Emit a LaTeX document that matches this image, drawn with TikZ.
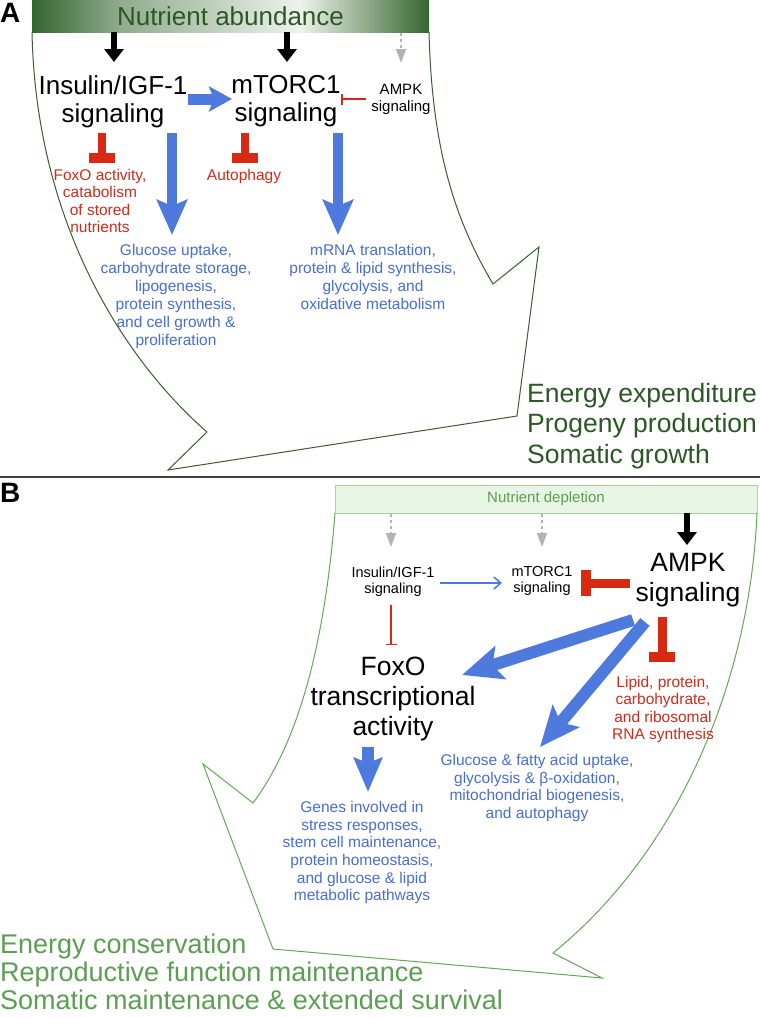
\documentclass[tikz,border=0pt]{standalone}
\usepackage{fontspec}
\setmainfont{Liberation Sans}
\usetikzlibrary{arrows.meta}
\definecolor{dkg}{RGB}{54,102,48}
\definecolor{dkgtext}{RGB}{44,88,38}
\definecolor{lgtext}{RGB}{92,158,82}
\definecolor{lgfill}{RGB}{232,244,228}
\definecolor{lgdraw}{RGB}{170,210,160}
\definecolor{outAc}{RGB}{60,92,52}
\definecolor{outBc}{RGB}{100,168,88}
\definecolor{barrow}{RGB}{77,122,220}
\definecolor{btext}{RGB}{72,110,208}
\definecolor{rarrow}{RGB}{216,42,18}
\definecolor{rtext}{RGB}{208,44,28}
\definecolor{garrow}{RGB}{180,180,180}
\definecolor{lightbar}{RGB}{238,243,236}
\colorlet{gB}{dkg!55!white}
\newcommand\fsz[2]{\fontsize{#1}{#2}\selectfont}
\tikzset{
  bigtxt/.style={font=\fsz{26}{28}, align=center, inner sep=0pt, anchor=north},
  midtxt/.style={font=\fsz{15.5}{17.5}, align=center, inner sep=0pt, anchor=north},
  smalltxt/.style={font=\fsz{15}{16.5}, align=center, inner sep=0pt, anchor=north},
  outtxt/.style={font=\fsz{26.5}{30.5}, align=left, inner sep=0pt, anchor=north west},
  panellabel/.style={font=\fsz{28}{30}\bfseries, inner sep=0pt, anchor=north west},
  blackarr/.style={draw=black, line width=6pt, -{Triangle[length=13pt,width=19pt]}},
  grayarr/.style={draw=garrow, line width=2pt, dash pattern=on 3pt off 3pt, -{Triangle[length=14pt,width=10pt]}},
  bluethick/.style={draw=barrow, line width=10pt, -{Stealth[length=35pt,width=30pt,inset=6pt]}},
  bluefat/.style={draw=barrow, line width=12pt, -{Stealth[length=40pt,width=34pt,inset=8pt]}},
  bluethin/.style={draw=barrow, line width=1.5pt, -{Straight Barb[length=7pt,width=12pt,line width=1.5pt]}},
  redT/.style={draw=rarrow, line width=8pt, -{Bar[width=26pt,line width=10pt]}},
  redthin/.style={draw=rarrow, line width=1.5pt, -{Bar[width=11pt,line width=1.5pt]}},
  outlineA/.style={draw=outAc, line width=1pt, line join=miter},
  outlineB/.style={draw=outBc, line width=1pt, line join=miter},
}
\begin{document}
\begin{tikzpicture}[x=1pt, y=-1pt]
\useasboundingbox (0,0) rectangle (760,1018);
\fill[white] (0,0) rectangle (760,1018);

% ---------------- Panel A ----------------
\node[panellabel] (labA) at (0,3) {A};
\shade[left color=dkg, right color=gB] (32,0) rectangle (120.5,32);
\shade[left color=gB, right color=lightbar] (120,0) rectangle (300.5,32);
\shade[left color=lightbar, right color=dkg] (300,0) rectangle (429,32);
\node[minimum width=397pt, minimum height=32pt, inner sep=0pt,
      text=dkgtext, font=\fsz{26}{28}] (abund) at (230.5,16) {Nutrient abundance};

\draw[outlineA] (32,32) .. controls (36,230) and (130,365) .. (207,432)
   -- (168,470) -- (517,416) -- (539,247) -- (493,284)
   .. controls (455,220) and (432,150) .. (429,32);

\node[bigtxt] (insA) at (113,75.5) {Insulin/IGF-1\\signaling};
\node[bigtxt] (mtorA) at (286,75.5) {mTORC1\\signaling};
\node[smalltxt] (ampkA) at (401,84) {AMPK\\signaling};
\node[midtxt, text=rtext] (foxA) at (100,169) {FoxO activity,\\catabolism\\of stored\\nutrients};
\node[midtxt, text=rtext] (autoA) at (244,169) {Autophagy};
\node[midtxt, text=btext, font=\fsz{15.5}{18}] (glucA) at (176,244) {Glucose uptake,\\carbohydrate storage,\\lipogenesis,\\protein synthesis,\\and cell growth \&\\proliferation};
\node[midtxt, text=btext, font=\fsz{15.5}{18}] (mrnaA) at (373,244) {mRNA translation,\\protein \& lipid synthesis,\\glycolysis, and\\oxidative metabolism};
\node[outtxt, text=dkgtext] (outA) at (527,383) {Energy expenditure\\Progeny production\\Somatic growth};

\coordinate (a1s) at (114,32);  \coordinate (a1e) at (114,62);
\coordinate (a2s) at (287,32);  \coordinate (a2e) at (287,62);
\coordinate (a3s) at (401,33);  \coordinate (a3e) at (401,63);
\draw[blackarr] (a1s) -- (a1e);
\draw[blackarr] (a2s) -- (a2e);
\draw[grayarr] (a3s) -- (a3e);

\coordinate (ih1) at (188,99); \coordinate (ih2) at (232,99);
\draw[bluethick, line width=11pt, -{Stealth[length=23pt,width=25pt,inset=5pt]}] (ih1) -- (ih2);
\coordinate (iv1) at (172,133); \coordinate (iv2) at (172,235);
\coordinate (mv1) at (338,133); \coordinate (mv2) at (338,235);
\draw[bluethick] (iv1) -- (iv2);
\draw[bluethick] (mv1) -- (mv2);

\coordinate (it1) at (102,133); \coordinate (it2) at (102,163);
\coordinate (mt1) at (245,133); \coordinate (mt2) at (245,163);
\draw[redT] (it1) -- (it2);
\draw[redT] (mt1) -- (mt2);
\coordinate (am1) at (366,99); \coordinate (am2) at (341,99);
\draw[redthin] (am1) -- (am2);

% divider
\draw[draw=black!75, line width=1.5pt] (0,477) -- (760,477);

% ---------------- Panel B ----------------
\node[panellabel] (labB) at (0,483) {B};
\node[draw=lgdraw, fill=lgfill, minimum width=422pt, minimum height=28pt, inner sep=0pt,
      text=lgtext, font=\fsz{15}{16}] (deplete) at (546,499) {Nutrient depletion};

\draw[outlineB] (335,513) .. controls (325,640) and (300,740) .. (253,803)
   -- (203,764) -- (273,949) -- (602,978) -- (553,953)
   .. controls (680,850) and (750,680) .. (757,513);

\node[smalltxt, font=\fsz{14.5}{16}] (insB) at (393,566.5) {Insulin/IGF-1\\signaling};
\node[smalltxt, font=\fsz{14.5}{16}] (mtorB) at (542,566.5) {mTORC1\\signaling};
\node[bigtxt, font=\fsz{26.5}{30}] (ampkB) at (688,553) {AMPK\\signaling};
\node[bigtxt, font=\fsz{26.5}{30}] (foxoB) at (393,657) {FoxO\\transcriptional\\activity};
\node[midtxt, text=rtext] (lipB) at (663,676) {Lipid, protein,\\carbohydrate,\\and ribosomal\\RNA synthesis};
\node[midtxt, text=btext, font=\fsz{15.5}{17.7}] (glucB) at (537,754) {Glucose \& fatty acid uptake,\\glycolysis \& β-oxidation,\\mitochondrial biogenesis,\\and autophagy};
\node[midtxt, text=btext, font=\fsz{15.5}{17.7}] (genesB) at (362,801) {Genes involved in\\stress responses,\\stem cell maintenance,\\protein homeostasis,\\and glucose \& lipid\\metabolic pathways};
\node[outtxt, text=lgtext, font=\fsz{27}{28}] (outB) at (0,934) {Energy conservation\\Reproductive function maintenance\\Somatic maintenance \& extended survival};

\coordinate (b1s) at (391,514); \coordinate (b1e) at (391,547);
\coordinate (b2s) at (542,514); \coordinate (b2e) at (542,547);
\coordinate (b3s) at (687,513); \coordinate (b3e) at (687,545);
\draw[grayarr] (b1s) -- (b1e);
\draw[grayarr] (b2s) -- (b2e);
\draw[blackarr] (b3s) -- (b3e);

\coordinate (bh1) at (440,583); \coordinate (bh2) at (502,583);
\draw[bluethin] (bh1) -- (bh2);
\coordinate (bt1) at (630,583); \coordinate (bt2) at (581,583);
\draw[redT, line width=9pt] (bt1) -- (bt2);
\coordinate (bv1) at (662,617); \coordinate (bv2) at (662,662);
\draw[redT, line width=9pt] (bv1) -- (bv2);
\coordinate (bi1) at (391,605); \coordinate (bi2) at (391,645);
\draw[redthin] (bi1) -- (bi2);

\coordinate (af1) at (633,620); \coordinate (af2) at (462,675);
\draw[bluefat] (af1) -- (af2);
\coordinate (ag1) at (645,622); \coordinate (ag2) at (540,747);
\draw[bluefat] (ag1) -- (ag2);
\coordinate (fg1) at (368,747); \coordinate (fg2) at (368,792);
\draw[bluethick, line width=12pt, -{Stealth[length=34pt,width=28pt,inset=5pt]}] (fg1) -- (fg2);
\end{tikzpicture}
\end{document}
